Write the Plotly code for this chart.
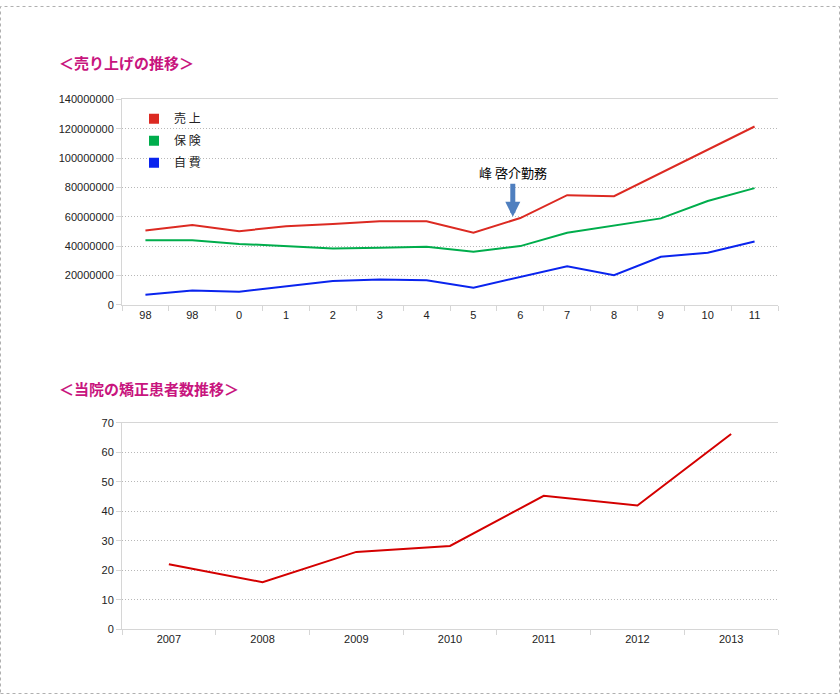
import plotly.graph_objects as go

# ---- data: 売り上げの推移 ----
sales_ticks = ["98", "98", "0", "1", "2", "3", "4", "5", "6", "7", "8", "9", "10", "11"]
uriage = [50.7e6, 54.4e6, 50.2e6, 53.5e6, 55.1e6, 56.9e6, 56.9e6, 49.1e6, 59.1e6, 74.7e6, 74.0e6, 89.8e6, 105.7e6, 121.5e6]
hoken = [44.0e6, 44.0e6, 41.5e6, 40.0e6, 38.4e6, 38.9e6, 39.5e6, 36.2e6, 40.0e6, 49.1e6, 54.0e6, 58.9e6, 70.7e6, 79.5e6]
jihi = [6.9e6, 9.7e6, 8.9e6, 12.7e6, 16.2e6, 17.3e6, 16.7e6, 11.7e6, 19.1e6, 26.2e6, 20.2e6, 32.7e6, 35.5e6, 43.1e6]
series_names = ["売 上", "保 険", "自 費"]
series_colors = ["#dc2a22", "#00ad4c", "#0a24ee"]

# ---- data: 当院の矯正患者数推移 ----
patient_years = ["2007", "2008", "2009", "2010", "2011", "2012", "2013"]
patients = [22.0, 15.9, 26.2, 28.2, 45.2, 41.9, 66.2]

W, H = 840, 700
L, R = 122, 778
top_y0, top_y1 = 95, 304
bot_y0, bot_y1 = 424, 634

def py(v):
    return 1 - v / H

tick_font = dict(family="Arial, Liberation Sans, sans-serif", size=11, color="#222")
cjk = "Noto Sans CJK JP, sans-serif"
axis_col = "#d6d6d6"
grid_col = "#b8b8b8"
grid_dash = "1px,2px"

fig = go.Figure()
xs = list(range(len(sales_ticks)))
for name, vals, col in zip(series_names, [uriage, hoken, jihi], series_colors):
    fig.add_trace(go.Scatter(x=xs, y=vals, mode="lines", line=dict(color=col, width=2),
                             showlegend=False, legendgroup=name, xaxis="x", yaxis="y", hoverinfo="skip"))
    fig.add_trace(go.Scatter(x=[None], y=[None], mode="markers", name=name, legendgroup=name,
                             marker=dict(symbol="square", size=10, color=col),
                             xaxis="x", yaxis="y"))

fig.add_trace(go.Scatter(x=patient_years, y=patients, mode="lines", line=dict(color="#d40000", width=2),
                         showlegend=False, xaxis="x2", yaxis="y2"))

fig.update_layout(
    width=W, height=H, margin=dict(l=0, r=0, t=0, b=0),
    paper_bgcolor="white", plot_bgcolor="white",
    showlegend=True,
    legend=dict(x=134 / W, y=py(100), xanchor="left", yanchor="top", bgcolor="rgba(0,0,0,0)",
                font=dict(family=cjk, size=12, color="#222"), tracegroupgap=3, itemwidth=30),
    xaxis=dict(domain=[L / W, R / W], anchor="y", range=[-0.5, len(sales_ticks) - 0.5],
               tickmode="array", tickvals=xs, ticktext=sales_ticks,
               ticks="",
               minor=dict(tickmode="linear", tick0=0.5, dtick=1, ticks="outside", ticklen=5, tickcolor=axis_col),
               showgrid=False, zeroline=False, showline=True, linecolor=axis_col, mirror=True,
               tickfont=tick_font, fixedrange=True),
    yaxis=dict(domain=[py(top_y1), py(top_y0)], anchor="x", range=[0, 140e6], dtick=20e6,
               tickformat="d", showgrid=True, gridcolor=grid_col, griddash=grid_dash, gridwidth=1,
               zeroline=False, showline=True, linecolor=axis_col, ticks="outside", ticklen=5,
               tickcolor=axis_col, tickfont=tick_font, fixedrange=True),
    xaxis2=dict(domain=[L / W, R / W], anchor="y2", type="category", tickson="boundaries",
                range=[-0.5, len(patient_years) - 0.5],
                ticks="outside", ticklen=5, tickcolor=axis_col,
                showgrid=False, zeroline=False, showline=True, linecolor=axis_col, mirror=True,
                tickfont=tick_font, fixedrange=True),
    yaxis2=dict(domain=[py(bot_y1), py(bot_y0)], anchor="x2", range=[0, 70], dtick=10,
                showgrid=True, gridcolor=grid_col, griddash=grid_dash, gridwidth=1,
                zeroline=False, showline=True, linecolor=axis_col, ticks="outside", ticklen=5,
                tickcolor=axis_col, tickfont=tick_font, fixedrange=True),
)

title_font = dict(family=cjk, size=15, color="#c8157e")
fig.add_annotation(text="<b>＜売り上げの推移＞</b>", xref="paper", yref="paper", x=57 / W, y=py(57),
                   xanchor="left", yanchor="middle", showarrow=False, font=title_font)
fig.add_annotation(text="<b>＜当院の矯正患者数推移＞</b>", xref="paper", yref="paper", x=57 / W, y=py(389),
                   xanchor="left", yanchor="middle", showarrow=False, font=title_font)

fig.add_annotation(text="峰 啓介勤務", x=7.84, y=60e6, xref="x", yref="y", showarrow=True,
                   ax=0, ay=-44, arrowcolor="#4f7fbf", arrowwidth=5, arrowhead=2, arrowsize=0.6,
                   font=dict(family=cjk, size=13, color="#000"))

fig.add_shape(type="rect", xref="paper", yref="paper", x0=0.5 / W, y0=0.5 / H, x1=1 - 0.5 / W, y1=1 - 0.5 / H,
              line=dict(color="#b0b0b0", width=1, dash="dot"))

fig.write_html(
    "out.html",
    config={"displayModeBar": False},
    post_script="document.documentElement.style.margin='0';document.body.style.margin='0';"
                "document.body.style.padding='0';document.body.style.overflow='hidden';",
)
